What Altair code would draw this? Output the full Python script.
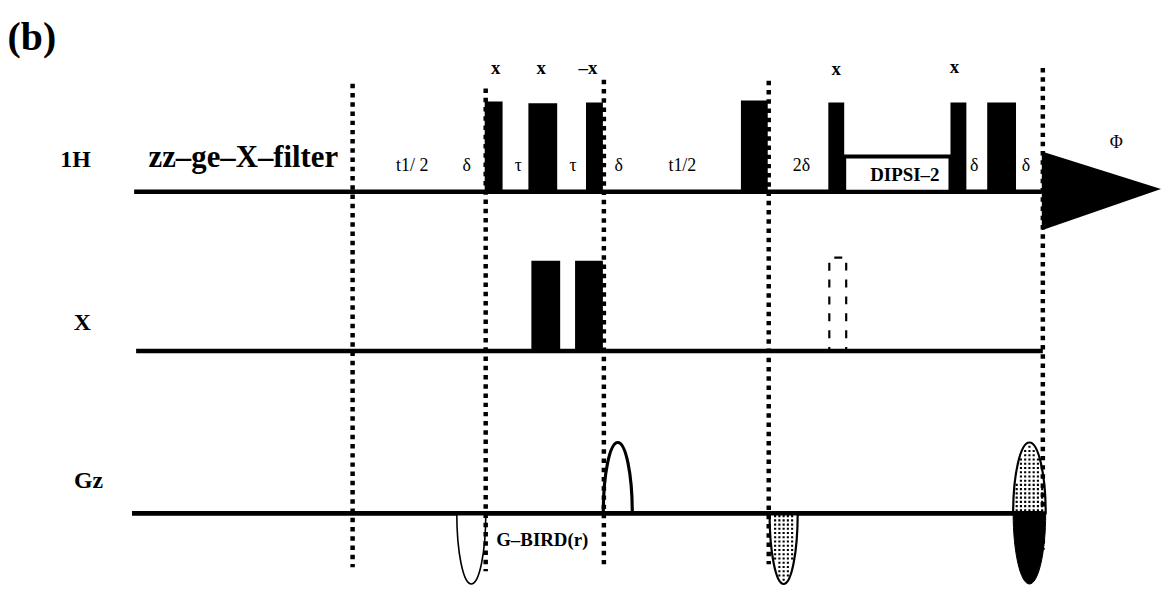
import altair as alt
import pandas as pd

# ---------------- data (picture units) ----------------
panel_label = ["(b)"]
panel_x = [32]
panel_y = [37]

chan_names = ["1H", "X", "Gz"]
chan_label_x = [76, 83, 89]
chan_label_y = [161, 327, 487]
base_y = [193, 355, 520]
base_start = [135, 137, 133]
base_end = [1049, 1050, 1050]

filter_text = ["zz–ge–X–filter"]
filter_x = [245]
filter_y = [159]

# 1H hard pulses
h_start = [488, 532, 590, 746, 834, 957, 994]
h_end = [506, 561, 607, 773, 850, 973, 1023]
h_top = [101, 103, 102, 100, 102, 102, 102]

# X pulses
xp_start = [535, 579]
xp_end = [564, 607]
xp_top = [263, 263]
# dashed (optional) X pulse
xd_start = [835]
xd_end = [852]
xd_top = [260]
xd_bottom = [355]

# DIPSI-2 block
dip_start = [850]
dip_end = [957]
dip_top = [157]
dip_bottom = [193]

# vertical dotted dividers
div_x = [355, 489, 608, 774, 1050]
div_top = [83, 88, 79, 80, 67]
div_bottom = [575, 579, 572, 572, 557]

# gradient lobes on Gz (centre positions)
g_open_down_x = [474.5]
g_open_up_x = [622]
g_stip_down_x = [789]
g_final_x = [1036.5]
g_base = [520]

# acquisition (FID) triangle
fid_x = [1049, 1169]
fid_top = [152, 190]
fid_bottom = [232, 190]

# delay labels
delay_text = ["t1/ 2", "δ", "τ", "τ", "δ", "t1/2", "2δ", "δ", "δ"]
delay_x = [415, 470, 522, 577, 623, 687, 807, 981, 1033]
delay_y = [167, 167, 167, 167, 167, 167, 167, 167, 167]

phi_text = ["Φ"]
phi_x = [1124]
phi_y = [143]

# phase labels
phase_text = ["x", "x", "–x", "x", "x"]
phase_x = [499, 545, 592, 842, 961]
phase_y = [67, 67, 67, 68, 66]

# block labels
block_text = ["DIPSI–2", "G–BIRD(r)"]
block_x = [911, 546]
block_y = [176, 547]

# ---------------- layout / style ----------------
X_DOMAIN = [8, 1171]
Y_DOMAIN = [8, 592]
W, H = 1163, 578
FONT = "Liberation Serif"

xs = alt.Scale(domain=X_DOMAIN, nice=False, zero=False)
ys = alt.Scale(domain=Y_DOMAIN, nice=False, zero=False, reverse=True)


def X(f):
    return alt.X(f, type="quantitative", scale=xs, axis=None)


def Y(f):
    return alt.Y(f, type="quantitative", scale=ys, axis=None)


LOBE_PX = 72.0 * H / (Y_DOMAIN[1] - Y_DOMAIN[0])
LOBE_SIZE = (2 * LOBE_PX) ** 2


def half_ellipse(a, up=True):
    s = -1 if up else 1
    k = 0.5523
    return (f"M {-a:.4f},0 C {-a:.4f},{s*k:.4f} {-k*a:.4f},{s} 0,{s} "
            f"C {k*a:.4f},{s} {a:.4f},{s*k:.4f} {a:.4f},0 Z")


def stipple(a, up=True, step=0.06, d=0.015):
    s = -1 if up else 1
    parts = []
    n = int(a / step) + 1
    for i in range(-n, n + 1):
        x = i * step
        for j in range(0, 17):
            y = 0.04 + j * step
            if (x / (a - 0.03)) ** 2 + (y / 0.96) ** 2 < 1:
                yy = s * y
                parts.append(
                    f"M {x-d:.4f},{yy-d:.4f} L {x+d:.4f},{yy-d:.4f} "
                    f"L {x+d:.4f},{yy+d:.4f} L {x-d:.4f},{yy+d:.4f} Z"
                )
    return " ".join(parts)


A_LOBE = 0.205
A_FINAL = 0.23

layers = []

# baselines
df_base = pd.DataFrame({"x": base_start, "x2": base_end, "y": base_y})
layers.append(
    alt.Chart(df_base).mark_rule(color="black", strokeWidth=4.5)
    .encode(x=X("x"), x2=alt.X2("x2"), y=Y("y"))
)

# gradient lobes
df_g1 = pd.DataFrame({"x": g_open_down_x, "y": g_base})
layers.append(
    alt.Chart(df_g1).mark_point(shape=half_ellipse(A_LOBE, up=False), size=LOBE_SIZE,
                                filled=True, fill="white", stroke="black",
                                strokeWidth=1.6, opacity=1)
    .encode(x=X("x"), y=Y("y"))
)
df_g2 = pd.DataFrame({"x": g_open_up_x, "y": g_base})
layers.append(
    alt.Chart(df_g2).mark_point(shape=half_ellipse(A_LOBE, up=True), size=LOBE_SIZE,
                                filled=True, fill="white", stroke="black",
                                strokeWidth=3.2, opacity=1)
    .encode(x=X("x"), y=Y("y"))
)
df_g3 = pd.DataFrame({"x": g_stip_down_x, "y": g_base})
layers.append(
    alt.Chart(df_g3).mark_point(shape=half_ellipse(A_LOBE * 0.97, up=False), size=LOBE_SIZE,
                                filled=True, fill="white", stroke="black",
                                strokeWidth=2.2, opacity=1)
    .encode(x=X("x"), y=Y("y"))
)
layers.append(
    alt.Chart(df_g3).mark_point(shape=stipple(A_LOBE * 0.97, up=False), size=LOBE_SIZE,
                                filled=True, fill="black", strokeWidth=0, opacity=1)
    .encode(x=X("x"), y=Y("y"))
)
df_g4 = pd.DataFrame({"x": g_final_x, "y": g_base})
layers.append(
    alt.Chart(df_g4).mark_point(shape=half_ellipse(A_FINAL, up=True), size=LOBE_SIZE,
                                filled=True, fill="white", stroke="black",
                                strokeWidth=2.2, opacity=1)
    .encode(x=X("x"), y=Y("y"))
)
layers.append(
    alt.Chart(df_g4).mark_point(shape=stipple(A_FINAL, up=True), size=LOBE_SIZE,
                                filled=True, fill="black", strokeWidth=0, opacity=1)
    .encode(x=X("x"), y=Y("y"))
)
layers.append(
    alt.Chart(df_g4).mark_point(shape=half_ellipse(A_FINAL, up=False), size=LOBE_SIZE,
                                filled=True, fill="black", stroke="black",
                                strokeWidth=1, opacity=1)
    .encode(x=X("x"), y=Y("y"))
)

# Gz baseline drawn again on top of the lobes
df_gz = pd.DataFrame({"x": [base_start[2]], "x2": [base_end[2]], "y": [base_y[2]]})
layers.append(
    alt.Chart(df_gz).mark_rule(color="black", strokeWidth=4.5)
    .encode(x=X("x"), x2=alt.X2("x2"), y=Y("y"))
)

# DIPSI-2 box
df_dip = pd.DataFrame({"x": dip_start, "x2": dip_end, "y": dip_top, "y2": dip_bottom})
layers.append(
    alt.Chart(df_dip).mark_rect(fill="white", stroke="black", strokeWidth=4)
    .encode(x=X("x"), x2=alt.X2("x2"), y=Y("y"), y2=alt.Y2("y2"))
)

# 1H pulses
df_h = pd.DataFrame({"x": h_start, "x2": h_end, "y": h_top,
                     "y2": [base_y[0]] * len(h_start)})
layers.append(
    alt.Chart(df_h).mark_rect(color="black", opacity=1)
    .encode(x=X("x"), x2=alt.X2("x2"), y=Y("y"), y2=alt.Y2("y2"))
)

# X pulses
df_xp = pd.DataFrame({"x": xp_start, "x2": xp_end, "y": xp_top,
                      "y2": [base_y[1]] * len(xp_start)})
layers.append(
    alt.Chart(df_xp).mark_rect(color="black", opacity=1)
    .encode(x=X("x"), x2=alt.X2("x2"), y=Y("y"), y2=alt.Y2("y2"))
)

# dashed X pulse
df_xd = pd.DataFrame({"x": xd_start, "x2": xd_end, "y": xd_top, "y2": xd_bottom})
layers.append(
    alt.Chart(df_xd).mark_rect(fill="white", fillOpacity=0, stroke="black",
                               strokeWidth=2.2, strokeDash=[8, 9], strokeDashOffset=12)
    .encode(x=X("x"), x2=alt.X2("x2"), y=Y("y"), y2=alt.Y2("y2"))
)

# dotted dividers
df_div = pd.DataFrame({"x": div_x, "y": div_top, "y2": div_bottom})
layers.append(
    alt.Chart(df_div).mark_rule(color="black", strokeWidth=4.5, strokeDash=[4.5, 4.8])
    .encode(x=X("x"), y=Y("y"), y2=alt.Y2("y2"))
)

# FID triangle
df_fid = pd.DataFrame({"x": fid_x, "y": fid_top, "y2": fid_bottom})
layers.append(
    alt.Chart(df_fid).mark_area(color="black", opacity=1, line=False)
    .encode(x=X("x"), y=Y("y"), y2=alt.Y2("y2"))
)


def text_layer(texts, xs_, ys_, size, weight):
    df = pd.DataFrame({"t": texts, "x": xs_, "y": ys_})
    return alt.Chart(df).mark_text(font=FONT, fontSize=size, fontWeight=weight,
                                   align="center", baseline="middle", color="black") \
        .encode(x=X("x"), y=Y("y"), text=alt.Text("t:N"))


layers.append(text_layer(panel_label, panel_x, panel_y, 40, "bold"))
layers.append(text_layer(chan_names, chan_label_x, chan_label_y, 24, "bold"))
layers.append(text_layer(filter_text, filter_x, filter_y, 31, "bold"))
layers.append(text_layer(delay_text, delay_x, delay_y, 18, "normal"))
layers.append(text_layer(phi_text, phi_x, phi_y, 18, "normal"))
layers.append(text_layer(phase_text, phase_x, phase_y, 19, "bold"))
layers.append(text_layer(block_text, block_x, block_y, 19, "bold"))

chart = alt.layer(*layers).properties(
    width=W, height=H, padding=0,
    autosize=alt.AutoSizeParams(type="none"),
    background="white",
).configure_view(stroke=None)

chart.save("out.html", embed_options={"renderer": "svg", "actions": False})
